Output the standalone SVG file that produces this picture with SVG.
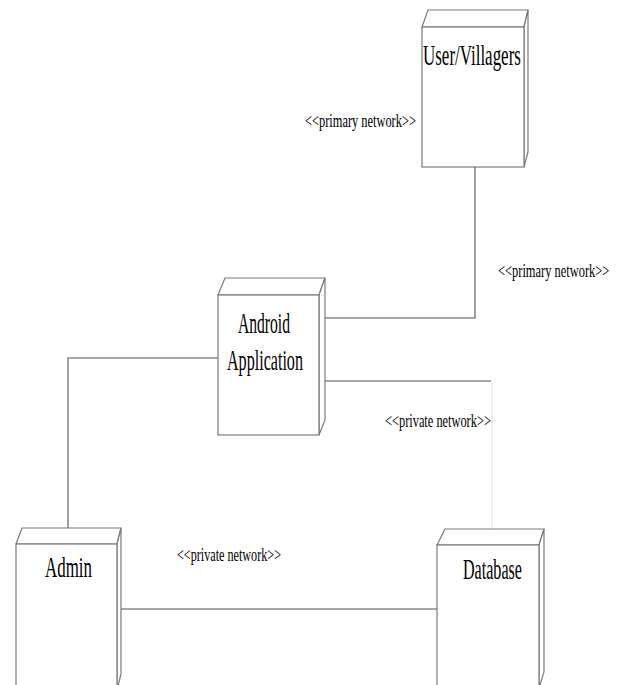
<svg xmlns="http://www.w3.org/2000/svg" width="618" height="685" viewBox="0 0 618 685">
<style>
.face{fill:#ffffff;stroke:#7a7a7a;stroke-width:1.2}
.conn{fill:none;stroke:#8a8a8a;stroke-width:1.6}
.light{fill:none;stroke:#e4e4e4;stroke-width:1.2}
.name{font-family:"Liberation Serif","Times New Roman",serif;font-size:29px;fill:#000}
.lbl{font-family:"Liberation Serif","Times New Roman",serif;font-size:19px;fill:#000}
</style>
<rect width="618" height="685" fill="#ffffff"/>
<g id="connectors">
<polyline class="conn" points="475,167 475,318 325,318"/>
<polyline class="conn" points="325,381 491,381"/>
<line class="light" x1="492" y1="381" x2="492" y2="529"/>
<polyline class="conn" points="218,358 68,358 68,528"/>
<line class="conn" x1="121" y1="609" x2="437" y2="609"/>
</g>
<g id="node-user">
<path class="face" d="M422,27 L428,10 L528,10 L524,27 Z"/>
<path class="face" d="M524,27 L528,10 L528,152 L524,167 Z"/>
<rect class="face" x="422" y="27" width="102" height="140"/>
<text class="name" transform="translate(423,65) scale(0.585,1)">User/Villagers</text>
</g>
<g id="node-android">
<path class="face" d="M218,295 L225,278 L325,278 L319,295 Z"/>
<path class="face" d="M319,295 L325,278 L325,420 L319,435 Z"/>
<rect class="face" x="218" y="295" width="101" height="140"/>
<text class="name" transform="translate(238,333) scale(0.538,1)">Android</text>
<text class="name" transform="translate(227,370) scale(0.555,1)">Application</text>
</g>
<g id="node-admin">
<path class="face" d="M16,544 L22,528 L121,528 L117,544 Z"/>
<path class="face" d="M117,544 L121,528 L121,674 L117,690 Z"/>
<rect class="face" x="16" y="544" width="101" height="150"/>
<text class="name" transform="translate(45,577) scale(0.583,1)">Admin</text>
</g>
<g id="node-database">
<path class="face" d="M437,545 L445,529 L544,529 L539,545 Z"/>
<path class="face" d="M539,545 L544,529 L544,672 L539,688 Z"/>
<rect class="face" x="437" y="545" width="102" height="150"/>
<text class="name" transform="translate(463,579) scale(0.555,1)">Database</text>
</g>
<g id="labels">
<text class="lbl" transform="translate(305,127) scale(0.653,1)">&lt;&lt;primary network&gt;&gt;</text>
<text class="lbl" transform="translate(498,277) scale(0.655,1)">&lt;&lt;primary network&gt;&gt;</text>
<text class="lbl" transform="translate(385,427) scale(0.652,1)">&lt;&lt;private network&gt;&gt;</text>
<text class="lbl" transform="translate(177,561) scale(0.64,1)">&lt;&lt;private network&gt;&gt;</text>
</g>
</svg>
